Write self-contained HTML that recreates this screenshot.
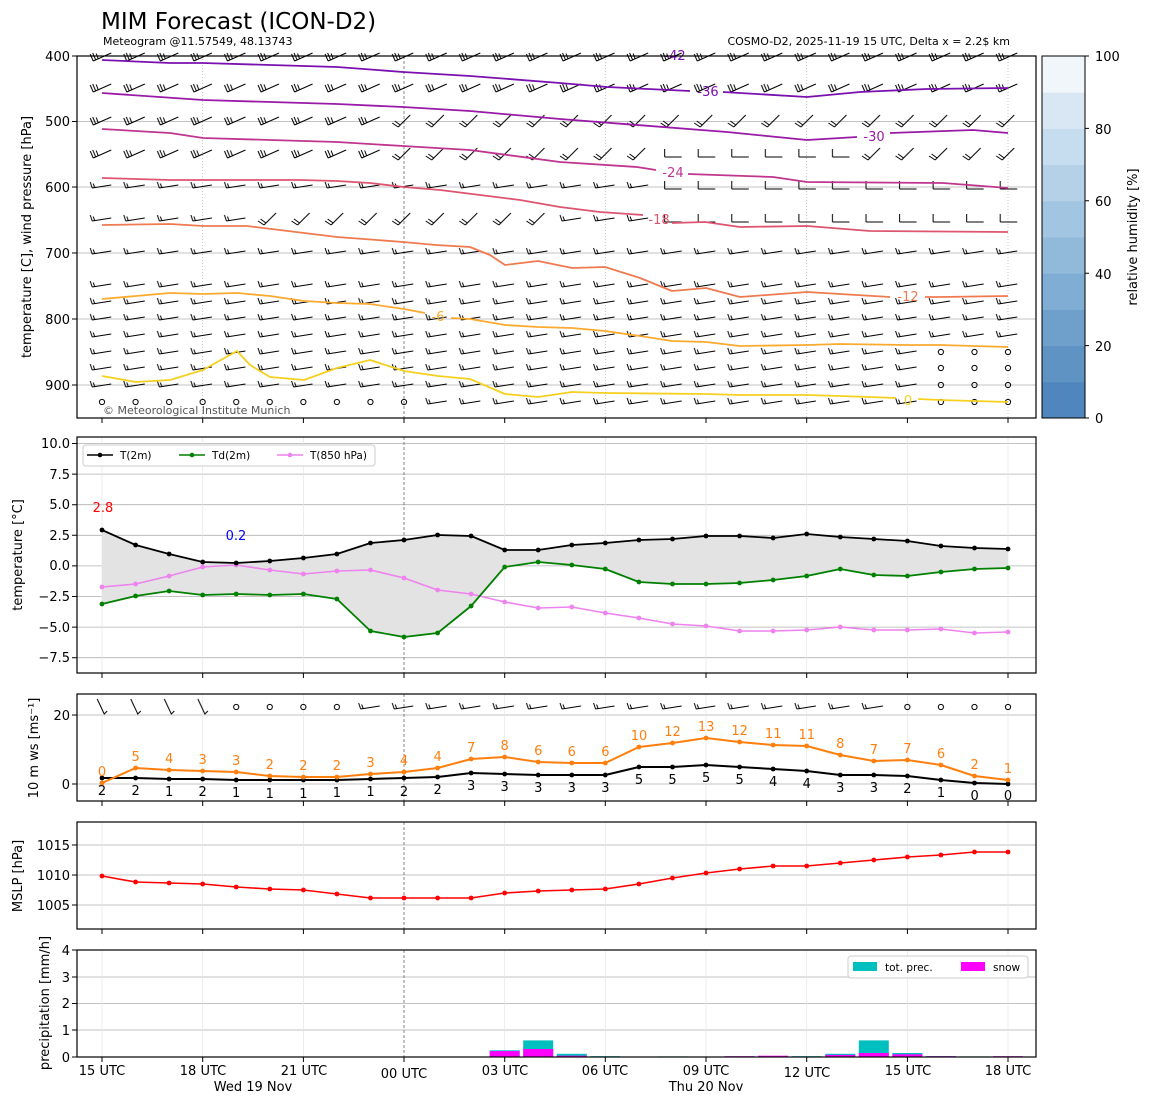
<!DOCTYPE html>
<html><head><meta charset="utf-8"><style>
body{margin:0;background:#fff}
svg{display:block;font-family:"DejaVu Sans","Liberation Sans",sans-serif}
</style></head><body>
<svg width="1150" height="1105" viewBox="0 0 1150 1105" xmlns="http://www.w3.org/2000/svg">
<defs>
<pattern id="pA" patternUnits="userSpaceOnUse" x="85.22" y="-10" width="33.556" height="20"><path d="M8,14 L26,6 M8,14 L5,7 M10.5,12.9 L7.5,5.9 M13,11.8 L11,6.5" stroke="#000" stroke-width="1" fill="none"/></pattern>
<pattern id="pB" patternUnits="userSpaceOnUse" x="85.22" y="-10" width="33.556" height="20"><path d="M11,16 L23,4 M11,16 L5,12 M13,14 L7.5,10" stroke="#000" stroke-width="1" fill="none"/></pattern>
<pattern id="pC" patternUnits="userSpaceOnUse" x="85.22" y="-10" width="33.556" height="20"><path d="M7,12 L26,9 M7,12 L5,6 M9.5,11.6 L8,7.5" stroke="#000" stroke-width="1" fill="none"/></pattern>
<pattern id="pD" patternUnits="userSpaceOnUse" x="85.22" y="-10" width="33.556" height="20"><path d="M9,13 L26,13 M9,13 L9,5" stroke="#000" stroke-width="1" fill="none"/></pattern>
<pattern id="pE" patternUnits="userSpaceOnUse" x="85.22" y="-10" width="33.556" height="20"><path d="M12,2 L19,17 L22,14" stroke="#000" stroke-width="1" fill="none"/></pattern>
<pattern id="pO" patternUnits="userSpaceOnUse" x="85.22" y="-10" width="33.556" height="20"><circle cx="16.78" cy="10" r="2.6" stroke="#000" stroke-width="1" fill="none"/></pattern>
<marker id="mk" markerUnits="userSpaceOnUse" markerWidth="6" markerHeight="6" refX="3" refY="3"><circle cx="3" cy="3" r="2.4" fill="#000"/></marker>
<marker id="mg" markerUnits="userSpaceOnUse" markerWidth="6" markerHeight="6" refX="3" refY="3"><circle cx="3" cy="3" r="2.4" fill="green"/></marker>
<marker id="mv" markerUnits="userSpaceOnUse" markerWidth="6" markerHeight="6" refX="3" refY="3"><circle cx="3" cy="3" r="2.4" fill="violet"/></marker>
<marker id="mo" markerUnits="userSpaceOnUse" markerWidth="6" markerHeight="6" refX="3" refY="3"><circle cx="3" cy="3" r="2.4" fill="#ff7f0e"/></marker>
<marker id="mr" markerUnits="userSpaceOnUse" markerWidth="6" markerHeight="6" refX="3" refY="3"><circle cx="3" cy="3" r="2.4" fill="red"/></marker>
</defs>
<rect width="1150" height="1105" fill="#fff"/>

<g stroke="#b0b0b0" stroke-width="0.8">
<path d="M77,121.5H1036M77,187H1036M77,253H1036M77,319H1036M77,385H1036"/>
<path d="M77,443.5H1036M77,474.1H1036M77,504.7H1036M77,535.3H1036M77,565.9H1036M77,596.5H1036M77,627.1H1036M77,657.7H1036"/>
<path d="M77,715H1036M77,784H1036M77,845H1036M77,875H1036M77,905H1036M77,950H1036M77,977H1036M77,1003.5H1036M77,1030H1036"/>
</g>
<g stroke="#aaa" stroke-width="0.7" stroke-dasharray="1,2">
<path d="M202.7,56V418M605.3,56V418M806.7,56V418M1008,56V418"/>
</g>
<g stroke="#e6e6e6" stroke-width="0.7">
<path d="M102,437V673M202.7,437V673M303.4,437V673M504.7,437V673M605.3,437V673M706,437V673M806.7,437V673M907.4,437V673M1008,437V673"/>
<path d="M102,694V801M202.7,694V801M303.4,694V801M504.7,694V801M605.3,694V801M706,694V801M806.7,694V801M907.4,694V801M1008,694V801"/>
<path d="M102,822V929M202.7,822V929M303.4,822V929M504.7,822V929M605.3,822V929M706,822V929M806.7,822V929M907.4,822V929M1008,822V929"/>
<path d="M102,950V1057M202.7,950V1057M303.4,950V1057M504.7,950V1057M605.3,950V1057M706,950V1057M806.7,950V1057M907.4,950V1057M1008,950V1057"/>
</g>
<path d="M404,56V418M404,437V673M404,694V801M404,822V929M404,950V1057" stroke="#555" stroke-width="0.7" stroke-dasharray="3,2"/>

<g>
<rect transform="translate(0,57)" x="85.22" y="-10" width="939.6" height="20" fill="url(#pA)"/>
<rect transform="translate(0,88)" x="85.22" y="-10" width="939.6" height="20" fill="url(#pA)"/>
<rect transform="translate(0,121)" x="85.22" y="-10" width="302" height="20" fill="url(#pA)"/>
<rect transform="translate(0,121)" x="387.2" y="-10" width="637.6" height="20" fill="url(#pB)"/>
<rect transform="translate(0,154)" x="85.22" y="-10" width="302" height="20" fill="url(#pA)"/>
<rect transform="translate(0,154)" x="387.2" y="-10" width="268.4" height="20" fill="url(#pB)"/>
<rect transform="translate(0,154)" x="655.7" y="-10" width="201.3" height="20" fill="url(#pD)"/>
<rect transform="translate(0,154)" x="857" y="-10" width="167.8" height="20" fill="url(#pB)"/>
<rect transform="translate(0,186)" x="85.22" y="-10" width="570.5" height="20" fill="url(#pC)"/>
<rect transform="translate(0,186)" x="655.7" y="-10" width="369.1" height="20" fill="url(#pD)"/>
<rect transform="translate(0,219)" x="85.22" y="-10" width="167.8" height="20" fill="url(#pC)"/>
<rect transform="translate(0,219)" x="253" y="-10" width="302" height="20" fill="url(#pB)"/>
<rect transform="translate(0,219)" x="555" y="-10" width="100.7" height="20" fill="url(#pC)"/>
<rect transform="translate(0,219)" x="655.7" y="-10" width="369.1" height="20" fill="url(#pD)"/>
<rect transform="translate(0,252)" x="85.22" y="-10" width="939.6" height="20" fill="url(#pC)"/>
<rect transform="translate(0,285)" x="85.22" y="-10" width="939.6" height="20" fill="url(#pC)"/>
<rect transform="translate(0,302)" x="85.22" y="-10" width="939.6" height="20" fill="url(#pC)"/>
<rect transform="translate(0,318)" x="85.22" y="-10" width="939.6" height="20" fill="url(#pC)"/>
<rect transform="translate(0,335)" x="85.22" y="-10" width="939.6" height="20" fill="url(#pC)"/>
<rect transform="translate(0,352)" x="85.22" y="-10" width="838.9" height="20" fill="url(#pC)"/>
<rect transform="translate(0,352)" x="924.1" y="-10" width="100.7" height="20" fill="url(#pO)"/>
<rect transform="translate(0,368)" x="85.22" y="-10" width="838.9" height="20" fill="url(#pC)"/>
<rect transform="translate(0,368)" x="924.1" y="-10" width="100.7" height="20" fill="url(#pO)"/>
<rect transform="translate(0,385)" x="85.22" y="-10" width="838.9" height="20" fill="url(#pC)"/>
<rect transform="translate(0,385)" x="924.1" y="-10" width="100.7" height="20" fill="url(#pO)"/>
<rect transform="translate(0,402)" x="85.22" y="-10" width="335.6" height="20" fill="url(#pO)"/>
<rect transform="translate(0,402)" x="420.8" y="-10" width="503.3" height="20" fill="url(#pC)"/>
<rect transform="translate(0,402)" x="924.1" y="-10" width="100.7" height="20" fill="url(#pO)"/>
<rect transform="translate(0,707)" x="85.22" y="-10" width="134.2" height="20" fill="url(#pE)"/>
<rect transform="translate(0,707)" x="219.4" y="-10" width="134.2" height="20" fill="url(#pO)"/>
<rect transform="translate(0,707)" x="353.7" y="-10" width="536.9" height="20" fill="url(#pC)"/>
<rect transform="translate(0,707)" x="890.5" y="-10" width="134.2" height="20" fill="url(#pO)"/>
</g>

<g fill="none" stroke-width="1.8" stroke-linejoin="round">
<polyline stroke="#7a10b0" points="102,60 170,63 203,63 337,67 403,72 470,76 560,83 607,87 690,91"/>
<polyline stroke="#7a10b0" points="723,92 807,97 860,92 927,89 1008,88"/>
<polyline stroke="#9a1aa8" points="102,93 203,100 337,104 403,107 470,111 560,119 727,132 807,140 857,137"/>
<polyline stroke="#9a1aa8" points="890,133 973,130 1008,133"/>
<polyline stroke="#c0358f" points="102,129 170,133 203,138 337,142 403,146 470,150 560,162 637,167 656,170"/>
<polyline stroke="#c0358f" points="688,174 773,177 807,182 943,183 1008,188"/>
<polyline stroke="#dd5570" points="102,178 170,180 300,180 337,181 370,183 404,187 440,190 480,195 520,200 560,207 600,212 643,215"/>
<polyline stroke="#dd5570" points="672,223 705,222 740,227 807,226 870,231 1008,232"/>
<polyline stroke="#ef7a50" points="102,225 170,224 203,226 247,226 337,237 403,242 436,245 470,247 490,255 505,265 538,261 572,268 605,267 640,278 672,291 706,288 740,297 807,292 840,294 890,297"/>
<polyline stroke="#ef7a50" points="925,297 940,297 1008,296"/>
<polyline stroke="#fbaa30" points="102,299 136,296 170,293 203,294 237,293 270,296 304,301 337,303 370,304 404,309 425,313"/>
<polyline stroke="#fbaa30" points="451,318 470,319 505,325 538,327 572,328 605,331 640,336 672,341 706,342 740,346 807,345 840,344 908,345 940,345 1008,347"/>
<polyline stroke="#f5d020" points="102,376 136,382 170,380 203,370 237,351 250,365 270,377 304,380 337,368 370,360 404,371 438,376 470,379 505,394 538,397 572,392 605,393 706,394 740,395 807,395 840,396 896,398"/>
<polyline stroke="#f5d020" points="918,399 940,400 1008,402"/>
</g>
<g font-size="13" text-anchor="middle">
<text x="675" y="60" fill="#7a10b0">-42</text>
<text x="708" y="96" fill="#7a10b0">-36</text>
<text x="874" y="141" fill="#9a1aa8">-30</text>
<text x="673" y="177" fill="#c0358f">-24</text>
<text x="659" y="224" fill="#dd5570">-18</text>
<text x="908" y="301" fill="#ef7a50">-12</text>
<text x="438" y="321" fill="#fbaa30">-6</text>
<text x="908" y="405" fill="#f5d020">0</text>
</g>

<polygon fill="#e3e3e3" points="102,530 135.6,545 169.1,554 202.7,562 236.2,563 269.8,561 303.4,558 336.9,554 370.5,543 404,540 437.6,535 471.1,536 504.7,550 538.2,550 571.8,545 605.3,543 638.9,540 672.5,539 706,536 739.6,536 773.1,538 806.7,534 840.3,537 873.8,539 907.4,541 940.9,546 974.5,548 1008,549 1008,568 974.5,569 940.9,572 907.4,576 873.8,575 840.3,569 806.7,576 773.1,580 739.6,583 706,584 672.5,584 638.9,582 605.3,569 571.8,565 538.2,562 504.7,567 471.1,606 437.6,633 404,637 370.5,631 336.9,599 303.4,594 269.8,595 236.2,594 202.7,595 169.1,591 135.6,596 102,604"/>
<g fill="none" stroke-linejoin="round">
<polyline stroke="violet" stroke-width="1.6" marker-start="url(#mv)" marker-mid="url(#mv)" marker-end="url(#mv)" points="102,587 135.6,584 169.1,576 202.7,567 236.2,565 269.8,570 303.4,574 336.9,571 370.5,570 404,578 437.6,590 471.1,594 504.7,602 538.2,608 571.8,607 605.3,613 638.9,618 672.5,624 706,626 739.6,631 773.1,631 806.7,630 840.3,627 873.8,630 907.4,630 940.9,629 974.5,633 1008,632"/>
<polyline stroke="green" stroke-width="1.8" marker-start="url(#mg)" marker-mid="url(#mg)" marker-end="url(#mg)" points="102,604 135.6,596 169.1,591 202.7,595 236.2,594 269.8,595 303.4,594 336.9,599 370.5,631 404,637 437.6,633 471.1,606 504.7,567 538.2,562 571.8,565 605.3,569 638.9,582 672.5,584 706,584 739.6,583 773.1,580 806.7,576 840.3,569 873.8,575 907.4,576 940.9,572 974.5,569 1008,568"/>
<polyline stroke="#000" stroke-width="1.8" marker-start="url(#mk)" marker-mid="url(#mk)" marker-end="url(#mk)" points="102,530 135.6,545 169.1,554 202.7,562 236.2,563 269.8,561 303.4,558 336.9,554 370.5,543 404,540 437.6,535 471.1,536 504.7,550 538.2,550 571.8,545 605.3,543 638.9,540 672.5,539 706,536 739.6,536 773.1,538 806.7,534 840.3,537 873.8,539 907.4,541 940.9,546 974.5,548 1008,549"/>
<polyline stroke="#000" stroke-width="2" marker-start="url(#mk)" marker-mid="url(#mk)" marker-end="url(#mk)" points="102,778 135.6,778 169.1,779 202.7,779 236.2,780 269.8,780 303.4,780 336.9,780 370.5,779 404,778 437.6,777 471.1,773 504.7,774 538.2,775 571.8,775 605.3,775 638.9,767 672.5,767 706,765 739.6,767 773.1,769 806.7,771 840.3,775 873.8,775 907.4,776 940.9,780 974.5,783 1008,784"/>
<polyline stroke="#ff7f0e" stroke-width="2" marker-start="url(#mo)" marker-mid="url(#mo)" marker-end="url(#mo)" points="102,783 135.6,768 169.1,770 202.7,771 236.2,772 269.8,776 303.4,777 336.9,777 370.5,774 404,772 437.6,768 471.1,759 504.7,757 538.2,762 571.8,763 605.3,763 638.9,747 672.5,743 706,738 739.6,742 773.1,745 806.7,746 840.3,755 873.8,761 907.4,760 940.9,765 974.5,776 1008,780"/>
<polyline stroke="red" stroke-width="1.6" marker-start="url(#mr)" marker-mid="url(#mr)" marker-end="url(#mr)" points="102,876 135.6,882 169.1,883 202.7,884 236.2,887 269.8,889 303.4,890 336.9,894 370.5,898 404,898 437.6,898 471.1,898 504.7,893 538.2,891 571.8,890 605.3,889 638.9,884 672.5,878 706,873 739.6,869 773.1,866 806.7,866 840.3,863 873.8,860 907.4,857 940.9,855 974.5,852 1008,852"/>
</g>

<g fill="#00bfbf">
<rect x="489.7" y="1050.3" width="30" height="6.7"/><rect x="523.2" y="1040.4" width="30" height="16.6"/><rect x="556.8" y="1053.8" width="30" height="3.2"/><rect x="590.3" y="1056.2" width="30" height="0.8"/><rect x="657.5" y="1056.4" width="30" height="0.6"/><rect x="724.6" y="1056.4" width="30" height="0.6"/><rect x="758.1" y="1056.4" width="30" height="0.6"/><rect x="791.7" y="1056.2" width="30" height="0.8"/><rect x="825.3" y="1053.8" width="30" height="3.2"/><rect x="858.8" y="1040.4" width="30" height="16.6"/><rect x="892.4" y="1053" width="30" height="4"/><rect x="925.9" y="1056.2" width="30" height="0.8"/><rect x="959.5" y="1056.4" width="30" height="0.6"/><rect x="993" y="1056.4" width="30" height="0.6"/>
</g>
<g fill="#ff00ff">
<rect x="489.7" y="1051.1" width="30" height="5.9"/><rect x="523.2" y="1049" width="30" height="8"/><rect x="556.8" y="1055.7" width="30" height="1.3"/><rect x="724.6" y="1056.2" width="30" height="0.8"/><rect x="758.1" y="1055.7" width="30" height="1.3"/><rect x="825.3" y="1054.9" width="30" height="2.1"/><rect x="858.8" y="1053" width="30" height="4"/><rect x="892.4" y="1054.3" width="30" height="2.7"/><rect x="925.9" y="1056.2" width="30" height="0.8"/><rect x="993" y="1056.2" width="30" height="0.8"/>
</g>

<rect x="1042" y="381.8" width="43" height="36.7" fill="#4f86bd"/>
<rect x="1042" y="345.6" width="43" height="36.7" fill="#5f93c4"/>
<rect x="1042" y="309.4" width="43" height="36.7" fill="#6fa0cc"/>
<rect x="1042" y="273.2" width="43" height="36.7" fill="#80add3"/>
<rect x="1042" y="237" width="43" height="36.7" fill="#91b9da"/>
<rect x="1042" y="200.8" width="43" height="36.7" fill="#a2c5e1"/>
<rect x="1042" y="164.6" width="43" height="36.7" fill="#b4d1e8"/>
<rect x="1042" y="128.4" width="43" height="36.7" fill="#c6ddef"/>
<rect x="1042" y="92.2" width="43" height="36.7" fill="#d9e7f4"/>
<rect x="1042" y="56" width="43" height="36.7" fill="#f1f6fb"/>
<rect x="1042" y="56" width="43" height="362" fill="none" stroke="#000" stroke-width="1"/>

<g fill="none" stroke="#000" stroke-width="1.2">
<rect x="77" y="56" width="959" height="362"/>
<rect x="77" y="437" width="959" height="236"/>
<rect x="77" y="694" width="959" height="107"/>
<rect x="77" y="822" width="959" height="107"/>
<rect x="77" y="950" width="959" height="107"/>
</g>
<g stroke="#000" stroke-width="1">
<path d="M102,418v5M202.7,418v5M303.4,418v5M404,418v5M504.7,418v5M605.3,418v5M706,418v5M806.7,418v5M907.4,418v5M1008,418v5"/>
<path d="M102,673v5M202.7,673v5M303.4,673v5M404,673v5M504.7,673v5M605.3,673v5M706,673v5M806.7,673v5M907.4,673v5M1008,673v5"/>
<path d="M102,801v5M202.7,801v5M303.4,801v5M404,801v5M504.7,801v5M605.3,801v5M706,801v5M806.7,801v5M907.4,801v5M1008,801v5"/>
<path d="M102,929v5M202.7,929v5M303.4,929v5M404,929v5M504.7,929v5M605.3,929v5M706,929v5M806.7,929v5M907.4,929v5M1008,929v5"/>
<path d="M102,1057v5M202.7,1057v5M303.4,1057v5M404,1057v5M504.7,1057v5M605.3,1057v5M706,1057v5M806.7,1057v5M907.4,1057v5M1008,1057v5"/>
<path d="M72,56h5M72,121.5h5M72,187h5M72,253h5M72,319h5M72,385h5"/>
<path d="M72,443.5h5M72,474.1h5M72,504.7h5M72,535.3h5M72,565.9h5M72,596.5h5M72,627.1h5M72,657.7h5"/>
<path d="M72,715h5M72,784h5M72,845h5M72,875h5M72,905h5M72,950h5M72,977h5M72,1003.5h5M72,1030h5M72,1057h5"/>
<path d="M1085,418h4M1085,345.6h4M1085,273.2h4M1085,200.8h4M1085,128.4h4M1085,56h4"/>
</g>

<text x="101" y="29" font-size="23">MIM Forecast (ICON-D2)</text>
<text x="103" y="45" font-size="11">Meteogram @11.57549, 48.13743</text>
<text x="1010" y="45" font-size="11" text-anchor="end">COSMO-D2, 2025-11-19 15 UTC, Delta x = 2.2$ km</text>
<text x="103" y="414" font-size="11" fill="#555">© Meteorological Institute Munich</text>
<g font-size="13" text-anchor="end">
<text x="70" y="61">400</text><text x="70" y="126">500</text><text x="70" y="192">600</text><text x="70" y="258">700</text><text x="70" y="324">800</text><text x="70" y="390">900</text>
<text x="70" y="448">10.0</text><text x="70" y="479">7.5</text><text x="70" y="509">5.0</text><text x="70" y="540">2.5</text><text x="70" y="570">0.0</text><text x="70" y="601">−2.5</text><text x="70" y="632">−5.0</text><text x="70" y="662">−7.5</text>
<text x="70" y="720">20</text><text x="70" y="789">0</text>
<text x="70" y="850">1015</text><text x="70" y="880">1010</text><text x="70" y="910">1005</text>
<text x="70" y="955">4</text><text x="70" y="982">3</text><text x="70" y="1008">2</text><text x="70" y="1035">1</text><text x="70" y="1062">0</text>
</g>
<g font-size="13">
<text x="1095" y="61">100</text><text x="1095" y="134">80</text><text x="1095" y="206">60</text><text x="1095" y="279">40</text><text x="1095" y="351">20</text><text x="1095" y="423">0</text>
</g>
<g font-size="13" text-anchor="middle">
<text transform="translate(31,237) rotate(-90)">temperature [C], wind pressure [hPa]</text>
<text transform="translate(22,555) rotate(-90)">temperature [°C]</text>
<text transform="translate(38,748) rotate(-90)">10 m ws [ms⁻¹]</text>
<text transform="translate(22,876) rotate(-90)">MSLP [hPa]</text>
<text transform="translate(49,1003) rotate(-90)">precipitation [mm/h]</text>
<text transform="translate(1137,237) rotate(-90)">relative humidity [%]</text>
<text x="102" y="1075">15 UTC</text><text x="203" y="1075">18 UTC</text><text x="304" y="1075">21 UTC</text><text x="404" y="1078">00 UTC</text><text x="505" y="1075">03 UTC</text><text x="605" y="1075">06 UTC</text><text x="706" y="1075">09 UTC</text><text x="807" y="1077">12 UTC</text><text x="908" y="1075">15 UTC</text><text x="1008" y="1075">18 UTC</text>
<text x="253" y="1091">Wed 19 Nov</text><text x="706" y="1091">Thu 20 Nov</text>
</g>
<text x="103" y="512" font-size="13" text-anchor="middle" fill="red">2.8</text>
<text x="236" y="540" font-size="13" text-anchor="middle" fill="blue">0.2</text>
<rect x="83" y="445" width="292" height="21" rx="3" fill="#fff" stroke="#ccc"/>
<g font-size="10.5">
<line x1="87" y1="455" x2="113" y2="455" stroke="#000" stroke-width="1.5"/><circle cx="100" cy="455" r="2.3"/><text x="120" y="459">T(2m)</text>
<line x1="179" y1="455" x2="205" y2="455" stroke="green" stroke-width="1.5"/><circle cx="192" cy="455" r="2.3" fill="green"/><text x="212" y="459">Td(2m)</text>
<line x1="277" y1="455" x2="303" y2="455" stroke="violet" stroke-width="1.5"/><circle cx="290" cy="455" r="2.3" fill="violet"/><text x="310" y="459">T(850 hPa)</text>
</g>
<rect x="848" y="956" width="180" height="22" rx="3" fill="#fff" stroke="#ccc"/>
<rect x="853" y="962" width="24" height="9" fill="#00bfbf"/><text x="885" y="971" font-size="10.5">tot. prec.</text>
<rect x="961" y="962" width="24" height="9" fill="#ff00ff"/><text x="993" y="971" font-size="10.5">snow</text>
<g font-size="13" text-anchor="middle" fill="#ff7f0e">
<text x="102" y="776">0</text><text x="135.6" y="761">5</text><text x="169.1" y="763">4</text><text x="202.7" y="764">3</text><text x="236.2" y="765">3</text><text x="269.8" y="769">2</text><text x="303.4" y="770">2</text><text x="336.9" y="770">2</text><text x="370.5" y="767">3</text><text x="404" y="765">4</text><text x="437.6" y="761">4</text><text x="471.2" y="752">7</text><text x="504.7" y="750">8</text><text x="538.3" y="755">6</text><text x="571.8" y="756">6</text><text x="605.4" y="756">6</text><text x="639" y="740">10</text><text x="672.5" y="736">12</text><text x="706.1" y="731">13</text><text x="739.6" y="735">12</text><text x="773.2" y="738">11</text><text x="806.8" y="739">11</text><text x="840.3" y="748">8</text><text x="873.9" y="754">7</text><text x="907.4" y="753">7</text><text x="941" y="758">6</text><text x="974.6" y="769">2</text><text x="1008" y="773">1</text>
</g>
<g font-size="13" text-anchor="middle" fill="#000">
<text x="102" y="795">2</text><text x="135.6" y="795">2</text><text x="169.1" y="796">1</text><text x="202.7" y="796">2</text><text x="236.2" y="797">1</text><text x="269.8" y="798">1</text><text x="303.4" y="798">1</text><text x="336.9" y="797">1</text><text x="370.5" y="796">1</text><text x="404" y="796">2</text><text x="437.6" y="794">2</text><text x="471.2" y="790">3</text><text x="504.7" y="791">3</text><text x="538.3" y="792">3</text><text x="571.8" y="792">3</text><text x="605.4" y="792">3</text><text x="639" y="784">5</text><text x="672.5" y="784">5</text><text x="706.1" y="782">5</text><text x="739.6" y="784">5</text><text x="773.2" y="786">4</text><text x="806.8" y="788">4</text><text x="840.3" y="792">3</text><text x="873.9" y="792">3</text><text x="907.4" y="793">2</text><text x="941" y="797">1</text><text x="974.6" y="800">0</text><text x="1008" y="800">0</text>
</g>
</svg>
</body></html>
